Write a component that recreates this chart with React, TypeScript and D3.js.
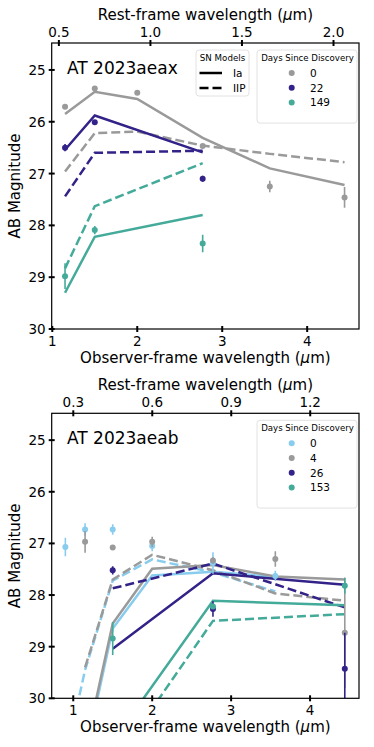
import React from 'react';
import * as d3 from 'd3';

// ---- AT 2023aeax (top panel) ----
const aeaxBands = [1.15, 1.5, 2.0, 2.77, 3.56, 4.44];
const aeaxDay0Mag = [25.71, 25.36, 25.44, 26.47, 27.25, 27.46];
const aeaxDay0Err = [0.03, 0.03, 0.03, 0.03, 0.11, 0.2];
const aeaxShortBands = [1.15, 1.5, 2.77];
const aeaxDay22Mag = [26.5, 26.01, 27.1];
const aeaxDay22Err = [0.07, 0.04, 0.06];
const aeaxDay149Mag = [28.98, 28.09, 28.35];
const aeaxDay149Err = [0.25, 0.08, 0.17];
const aeaxIaDay0 = [25.85, 25.42, 25.56, 26.31, 26.9, 27.22];
const aeaxIIPDay0 = [26.96, 26.22, 26.19, 26.46, 26.62, 26.78];
const aeaxIaDay22 = [26.54, 25.88, 26.59];
const aeaxIIPDay22 = [27.44, 26.6, 26.56];
const aeaxIaDay149 = [29.3, 28.22, 27.8];
const aeaxIIPDay149 = [28.83, 27.63, 26.8];

// ---- AT 2023aeab (bottom panel) ----
const aeabDay0Bands = [0.9, 1.15, 1.5, 2.0, 2.77, 3.56];
const aeabDay0Mag = [27.07, 26.73, 26.73, 27.05, 27.38, 27.63];
const aeabDay0Err = [0.18, 0.12, 0.1, 0.1, 0.21, 0.1];
const aeabDay4Bands = [1.15, 1.5, 2.0, 2.77, 3.56, 4.44];
const aeabDay4Mag = [26.97, 27.08, 26.97, 27.33, 27.3, 28.73];
const aeabDay4Err = [0.21, 0.05, 0.1, 0.06, 0.15, 1.07];
const aeabLateBands = [1.5, 2.77, 4.44];
const aeabDay26Mag = [27.52, 28.27, 29.43];
const aeabDay26Err = [0.08, 0.15, 0.7];
const aeabDay153Mag = [28.84, 28.22, 27.82];
const aeabDay153Err = [0.32, 0.05, 0.15];
const aeabIaDay0 = [32.4, 31.1, 28.65, 27.62, 27.55, 27.65];
const aeabIIPDay0 = [31.17, 29.45, 27.72, 27.31, 27.56, 27.93];
const aeabIaDay4 = [31.0, 28.55, 27.49, 27.42, 27.64, 27.7];
const aeabIIPDay4 = [29.4, 27.7, 27.22, 27.52, 27.97, 28.11];
const aeabIaDay26 = [29.04, 27.58, 27.8];
const aeabIIPDay26 = [27.87, 27.39, 28.24];
const aeabIaDay153 = [30.84, 28.11, 28.2];
const aeabIIPDay153 = [31.3, 28.5, 28.37];

const obsTicks = [1, 2, 3, 4];
const magTicks = [25, 26, 27, 28, 29, 30];
const aeaxRestTicks = [0.5, 1.0, 1.5, 2.0];
const aeabRestTicks = [0.3, 0.6, 0.9, 1.2];

const GRAY = '#9a9a9a';
const PURPLE = '#332288';
const TEAL = '#44aa99';
const LBLUE = '#88ccee';
const FONT = 'DejaVu Sans, sans-serif';

type Series = { wl: number[]; mag: number[]; err?: number[]; color: string; dashed?: boolean };

function Panel(props: {
  id: string; top: number; bottom: number; xDomain: [number, number]; onePlusZ: number;
  restTicks: number[]; title: string; models: Series[]; points: Series[];
  legend: { label: string; color: string }[]; showModelLegend: boolean;
}) {
  const left = 51.7, right = 359;
  const x = d3.scaleLinear().domain(props.xDomain).range([left, right]);
  const y = d3.scaleLinear().domain([24.48, 30]).range([props.top, props.bottom]);
  const line = d3.line<[number, number]>().x(d => x(d[0])).y(d => y(d[1]));
  const clip = `clip-${props.id}`;
  const midX = (left + right) / 2;
  const legTop = props.top + 8;
  const legX = 257;
  return (
    <g fontFamily={FONT}>
      <defs>
        <clipPath id={clip}>
          <rect x={left} y={props.top} width={right - left} height={props.bottom - props.top} />
        </clipPath>
      </defs>
      <g clipPath={`url(#${clip})`}>
        {props.models.map((s, i) => (
          <path key={i} d={line(s.wl.map((w, j) => [w, s.mag[j]] as [number, number])) || ''}
            fill="none" stroke={s.color} strokeWidth={2.5}
            strokeDasharray={s.dashed ? '9,4' : undefined} />
        ))}
        {props.points.map((s, i) => (
          <g key={i}>
            {s.wl.map((w, j) => (
              <g key={j}>
                <line x1={x(w)} x2={x(w)} y1={y(s.mag[j] - (s.err ? s.err[j] : 0))}
                  y2={y(s.mag[j] + (s.err ? s.err[j] : 0))} stroke={s.color} strokeWidth={1.6} />
                <circle cx={x(w)} cy={y(s.mag[j])} r={3} fill={s.color} />
              </g>
            ))}
          </g>
        ))}
      </g>
      <rect x={left} y={props.top} width={right - left} height={props.bottom - props.top}
        fill="none" stroke="#000" strokeWidth={1.2} />
      {obsTicks.map(t => (
        <g key={t}>
          <line x1={x(t)} x2={x(t)} y1={props.bottom - 3} y2={props.bottom + 3} stroke="#000" strokeWidth={2} />
          <text x={x(t)} y={props.bottom + 17} textAnchor="middle" fontSize={13.5}>{t}</text>
        </g>
      ))}
      {props.restTicks.map(t => (
        <g key={t}>
          <line x1={x(t * props.onePlusZ)} x2={x(t * props.onePlusZ)} y1={props.top - 3} y2={props.top + 3}
            stroke="#000" strokeWidth={2} />
          <text x={x(t * props.onePlusZ)} y={props.top - 6} textAnchor="middle" fontSize={13.5}>{t.toFixed(1)}</text>
        </g>
      ))}
      {magTicks.map(t => (
        <g key={t}>
          <line x1={left - 3} x2={left + 3} y1={y(t)} y2={y(t)} stroke="#000" strokeWidth={2} />
          <text x={left - 6} y={y(t) + 5} textAnchor="end" fontSize={13.5}>{t}</text>
        </g>
      ))}
      <text x={midX} y={props.top - 23} textAnchor="middle" fontSize={15}>
        Rest-frame wavelength (<tspan fontStyle="italic">μ</tspan>m)
      </text>
      <text x={midX} y={props.bottom + 34} textAnchor="middle" fontSize={15}>
        Observer-frame wavelength (<tspan fontStyle="italic">μ</tspan>m)
      </text>
      <text transform={`translate(20,${(props.top + props.bottom) / 2}) rotate(-90)`} textAnchor="middle" fontSize={15}>
        AB Magnitude
      </text>
      <text x={67} y={props.top + 31} fontSize={17}>{props.title}</text>
      {props.showModelLegend && (
        <g>
          <rect x={196} y={legTop - 1} width={53} height={46} rx={3} fill="#fff" fillOpacity={0.8} stroke="#e2e2e2" />
          <text x={222.5} y={legTop + 10} textAnchor="middle" fontSize={8.7}>SN Models</text>
          <line x1={199.5} x2={222} y1={legTop + 22} y2={legTop + 22} stroke="#000" strokeWidth={2.5} />
          <line x1={199.5} x2={222} y1={legTop + 37} y2={legTop + 37} stroke="#000" strokeWidth={2.5} strokeDasharray="9,4" />
          <text x={233} y={legTop + 26} fontSize={10.5}>Ia</text>
          <text x={233} y={legTop + 41} fontSize={10.5}>IIP</text>
        </g>
      )}
      <g>
        <rect x={legX} y={legTop - 1} width={100} height={29 + props.legend.length * 14.7} rx={3}
          fill="#fff" fillOpacity={0.8} stroke="#e2e2e2" />
        <text x={legX + 50.5} y={legTop + 10} textAnchor="middle" fontSize={8.6}>Days Since Discovery</text>
        {props.legend.map((l, i) => (
          <g key={l.label}>
            <circle cx={291.7} cy={legTop + 22 + i * 14.7} r={3} fill={l.color} />
            <text x={310} y={legTop + 26 + i * 14.7} fontSize={10.5}>{l.label}</text>
          </g>
        ))}
      </g>
    </g>
  );
}

export default function App() {
  return (
    <svg width={374} height={747} style={{ position: 'absolute', left: 0, top: 0, background: '#fff' }}>
      <Panel id="aeax" top={43} bottom={329} xDomain={[0.993, 4.61]} onePlusZ={2.155}
        restTicks={aeaxRestTicks} title="AT 2023aeax" showModelLegend
        models={[
          { wl: aeaxBands, mag: aeaxIaDay0, color: GRAY },
          { wl: aeaxBands, mag: aeaxIIPDay0, color: GRAY, dashed: true },
          { wl: aeaxShortBands, mag: aeaxIaDay22, color: PURPLE },
          { wl: aeaxShortBands, mag: aeaxIIPDay22, color: PURPLE, dashed: true },
          { wl: aeaxShortBands, mag: aeaxIaDay149, color: TEAL },
          { wl: aeaxShortBands, mag: aeaxIIPDay149, color: TEAL, dashed: true },
        ]}
        points={[
          { wl: aeaxBands, mag: aeaxDay0Mag, err: aeaxDay0Err, color: GRAY },
          { wl: aeaxShortBands, mag: aeaxDay22Mag, err: aeaxDay22Err, color: PURPLE },
          { wl: aeaxShortBands, mag: aeaxDay149Mag, err: aeaxDay149Err, color: TEAL },
        ]}
        legend={[{ label: '0', color: GRAY }, { label: '22', color: PURPLE }, { label: '149', color: TEAL }]}
      />
      <Panel id="aeab" top={413.3} bottom={698.3} xDomain={[0.727, 4.62]} onePlusZ={3.335}
        restTicks={aeabRestTicks} title="AT 2023aeab" showModelLegend={false}
        models={[
          { wl: aeabDay0Bands, mag: aeabIaDay0, color: LBLUE },
          { wl: aeabDay0Bands, mag: aeabIIPDay0, color: LBLUE, dashed: true },
          { wl: aeabDay4Bands, mag: aeabIaDay4, color: GRAY },
          { wl: aeabDay4Bands, mag: aeabIIPDay4, color: GRAY, dashed: true },
          { wl: aeabLateBands, mag: aeabIaDay26, color: PURPLE },
          { wl: aeabLateBands, mag: aeabIIPDay26, color: PURPLE, dashed: true },
          { wl: aeabLateBands, mag: aeabIaDay153, color: TEAL },
          { wl: aeabLateBands, mag: aeabIIPDay153, color: TEAL, dashed: true },
        ]}
        points={[
          { wl: aeabDay0Bands, mag: aeabDay0Mag, err: aeabDay0Err, color: LBLUE },
          { wl: aeabDay4Bands, mag: aeabDay4Mag, err: aeabDay4Err, color: GRAY },
          { wl: aeabLateBands, mag: aeabDay26Mag, err: aeabDay26Err, color: PURPLE },
          { wl: aeabLateBands, mag: aeabDay153Mag, err: aeabDay153Err, color: TEAL },
        ]}
        legend={[{ label: '0', color: LBLUE }, { label: '4', color: GRAY }, { label: '26', color: PURPLE }, { label: '153', color: TEAL }]}
      />
    </svg>
  );
}
